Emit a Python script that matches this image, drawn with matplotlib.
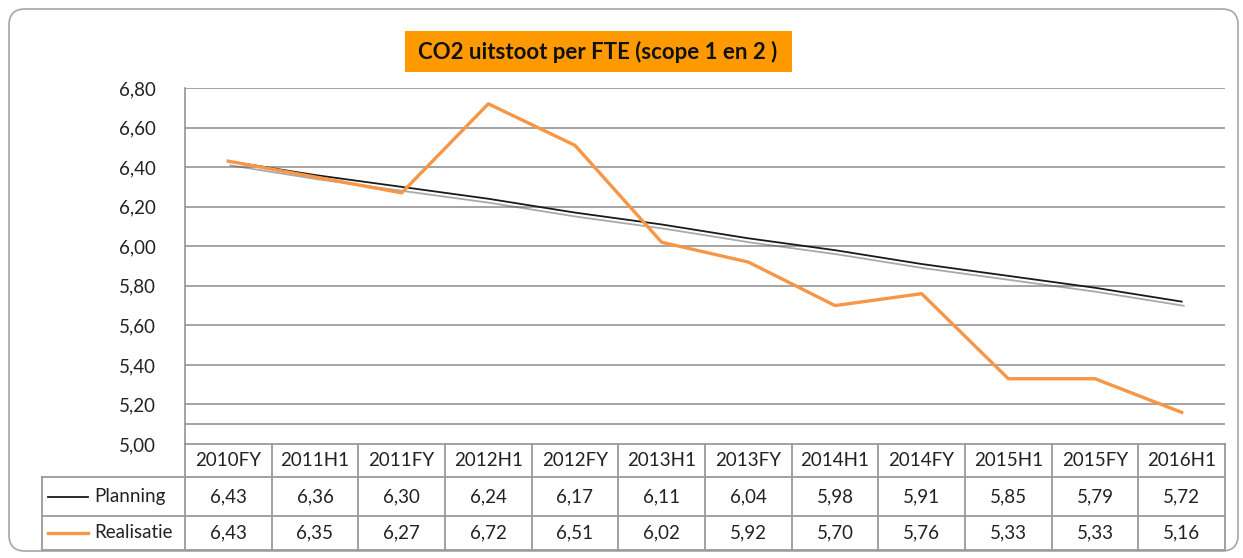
import matplotlib
matplotlib.use("Agg")
import matplotlib.pyplot as plt
import matplotlib.patheffects as pe
from matplotlib.patches import FancyBboxPatch, Rectangle
from matplotlib.ticker import FuncFormatter

categories = ["2010FY", "2011H1", "2011FY", "2012H1", "2012FY", "2013H1",
              "2013FY", "2014H1", "2014FY", "2015H1", "2015FY", "2016H1"]
planning = [6.43, 6.36, 6.30, 6.24, 6.17, 6.11, 6.04, 5.98, 5.91, 5.85, 5.79, 5.72]
realisatie = [6.43, 6.35, 6.27, 6.72, 6.51, 6.02, 5.92, 5.70, 5.76, 5.33, 5.33, 5.16]
series_names = ["Planning", "Realisatie"]
title = "CO2 uitstoot per FTE (scope 1 en 2 )"

plt.rcParams['font.family'] = ['Lato', 'DejaVu Sans']

W, H = 1243, 558
fig = plt.figure(figsize=(W / 100, H / 100), dpi=100)

# overlay in pixel coordinates
ov = fig.add_axes([0, 0, 1, 1], zorder=0)
ov.set_xlim(0, W)
ov.set_ylim(H, 0)
ov.axis("off")
ov.patch.set_alpha(0)

ov.add_patch(FancyBboxPatch((9, 9), 1229, 542, boxstyle="round,pad=0,rounding_size=16",
                            fc="white", ec="#A6A6A6", lw=1.2))

# plot area
px0, px1, py0, py1 = 185, 1225, 88, 444
ax = fig.add_axes([px0 / W, 1 - py1 / H, (px1 - px0) / W, (py1 - py0) / H], zorder=2)
ax.patch.set_alpha(0)
n = len(categories)
xs = [i + 0.5 for i in range(n)]
ax.set_xlim(0, n)
ax.set_ylim(5.0, 6.8)
yt = [5.0 + 0.2 * k for k in range(10)]
ax.set_yticks(yt)
ax.yaxis.set_major_formatter(FuncFormatter(lambda v, p: f"{v:.2f}".replace(".", ",")))
ax.tick_params(axis="y", length=0, pad=21, labelsize=13.5, labelcolor="#222222")
ax.set_xticks([])
for v in yt[1:]:
    ax.axhline(v, color="#8C8C8C", lw=1.1, zorder=1)
ax.axhline(5.1, color="#8C8C8C", lw=1.1, zorder=1)
for s in ["top", "right", "bottom"]:
    ax.spines[s].set_visible(False)
ax.spines["left"].set_color("#8C8C8C")
ax.spines["left"].set_linewidth(1.1)

ax.plot(xs, planning, color="#1a1a1a", lw=1.3, zorder=4,
        path_effects=[pe.SimpleLineShadow(offset=(1.5, -3), shadow_color="#555555", alpha=0.5, rho=0.3),
                      pe.Normal()])
ax.plot(xs, realisatie, color="#F79646", lw=2.4, zorder=5)

# title box
ov.add_patch(Rectangle((405, 31), 387, 41, fc="#FF9900", ec="none"))
ov.text(598, 52, title, ha="center", va="center", fontsize=16, fontweight="bold", color="#111111")

# data table
gc = "#9A9A9A"
colw = (px1 - px0) / n
rows = [444, 477, 516, 550]
ov.plot([px0, px1], [rows[0], rows[0]], color=gc, lw=1.3)
for r in rows[1:]:
    ov.plot([42, px1], [r, r], color=gc, lw=1.3)
ov.plot([42, 42], [rows[1], rows[3]], color=gc, lw=1.3)
for i in range(n + 1):
    x = px0 + i * colw
    ov.plot([x, x], [rows[0], rows[3]], color=gc, lw=1.3)

fs = 13.5
for i, c in enumerate(categories):
    cx = px0 + (i + 0.5) * colw
    ov.text(cx, (rows[0] + rows[1]) / 2, c, ha="center", va="center", fontsize=fs, color="#222222")
    ov.text(cx, (rows[1] + rows[2]) / 2, f"{planning[i]:.2f}".replace(".", ","),
            ha="center", va="center", fontsize=fs, color="#222222")
    ov.text(cx, (rows[2] + rows[3]) / 2, f"{realisatie[i]:.2f}".replace(".", ","),
            ha="center", va="center", fontsize=fs, color="#222222")

for k, (name, col, lw) in enumerate([(series_names[0], "#1a1a1a", 1.3), (series_names[1], "#F79646", 2.4)]):
    cy = (rows[k + 1] + rows[k + 2]) / 2
    ov.plot([48, 88], [cy, cy], color=col, lw=lw)
    ov.text(94, cy, name, ha="left", va="center", fontsize=fs, color="#222222")

fig.savefig("out.png", dpi=100)
